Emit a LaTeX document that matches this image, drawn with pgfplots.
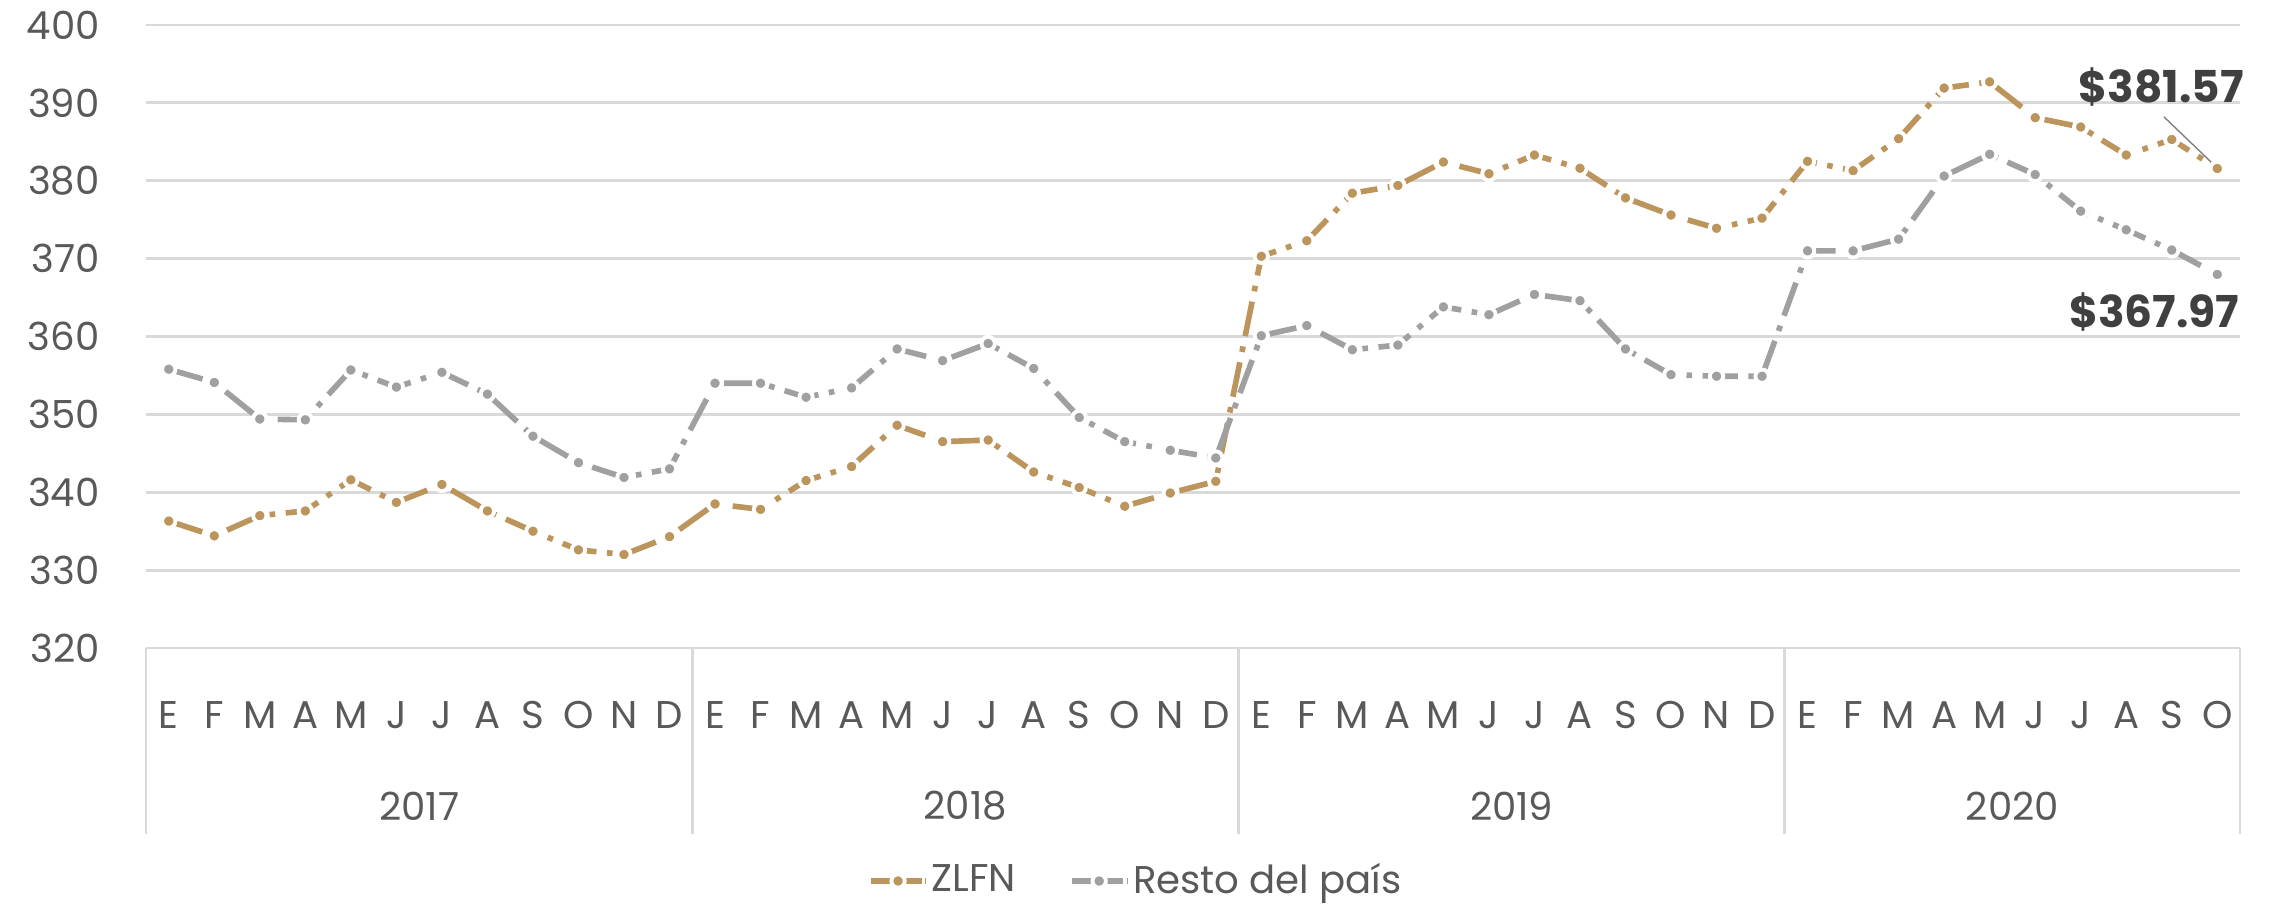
\documentclass[border=0pt]{standalone}
\usepackage{pgfplots}
\pgfplotsset{compat=1.18}
\usepackage{pgfplotstable}
\usepackage{fontspec}
\setmainfont{Poppins}

\definecolor{oro}{HTML}{BC955C}
\definecolor{gris}{HTML}{A0A0A0}
\definecolor{txt}{HTML}{595959}
\definecolor{lbl}{HTML}{404040}
\definecolor{rejilla}{HTML}{D9D9D9}

% mes (0 = ene 2017), ZLFN, resto del pais
\pgfplotstableread{
x  zlfn    resto
0  336.3   355.8
1  334.4   354.1
2  337.0   349.4
3  337.6   349.3
4  341.6   355.7
5  338.7   353.5
6  341.0   355.4
7  337.6   352.6
8  335.0   347.2
9  332.6   343.8
10 332.0   341.9
11 334.3   343.0
12 338.5   354.0
13 337.8   354.0
14 341.5   352.2
15 343.3   353.4
16 348.6   358.4
17 346.5   356.9
18 346.7   359.1
19 342.6   355.9
20 340.6   349.6
21 338.2   346.5
22 339.9   345.4
23 341.4   344.4
24 370.3   360.1
25 372.3   361.4
26 378.4   358.3
27 379.4   358.9
28 382.4   363.8
29 380.9   362.8
30 383.3   365.4
31 381.6   364.6
32 377.8   358.4
33 375.6   355.1
34 373.9   354.9
35 375.2   354.9
36 382.5   371.0
37 381.3   371.0
38 385.4   372.5
39 391.9   380.6
40 392.7   383.4
41 388.1   380.8
42 386.9   376.1
43 383.3   373.7
44 385.3   371.1
45 381.57  367.97
}\datos

\begin{document}
\begin{tikzpicture}
\useasboundingbox (0,0) rectangle (22.73cm,9.04cm);
\begin{axis}[
  at={(1.46cm,2.56cm)}, anchor=south west,
  scale only axis, width=20.94cm, height=6.23cm,
  xmin=-0.5, xmax=45.5, ymin=320, ymax=400,
  axis line style={draw=none},
  ytick={320,330,...,400},
  xtick={0,...,45},
  xticklabels={E,F,M,A,M,J,J,A,S,O,N,D,E,F,M,A,M,J,J,A,S,O,N,D,E,F,M,A,M,J,J,A,S,O,N,D,E,F,M,A,M,J,J,A,S,O},
  major tick length=0pt,
  xmajorgrids=false, ymajorgrids=true,
  major grid style={draw=rejilla, line width=0.8pt},
  tick label style={font=\fontsize{11}{13}\selectfont, text=txt},
  /pgf/number format/assume math mode=true,
  yticklabel style={xshift=-0.34cm},
  xticklabel style={anchor=center, yshift=-0.67cm},
  clip=false,
  legend style={at={(0.473,-0.374)}, anchor=center, draw=none, fill=none,
    font=\fontsize{11}{13}\selectfont, text=txt, legend columns=2,
    nodes={inner xsep=1pt},
    /tikz/every even column/.append style={column sep=14pt}},
  legend image code/.code={
    \draw[#1, dash pattern=on 4pt off 2pt on 1.6pt off 2pt] (0cm,0cm) -- (0.55cm,0cm);
    \draw[#1, mark repeat=2, mark phase=2] plot coordinates {(0cm,0cm) (0.275cm,0cm) (0.55cm,0cm)};
  },
  every axis plot/.append style={line width=1.6pt,
    dash pattern=on 10pt off 3pt on 1.6pt off 3pt,
    mark=*, mark size=1.9pt},
]
\addplot[oro, mark options={solid, fill=oro, draw=white, line width=1.1pt}]
  table[x=x, y=zlfn] {\datos};
\addlegendentry{ZLFN}
\addplot[gris, mark options={solid, fill=gris, draw=white, line width=1.1pt}]
  table[x=x, y=resto] {\datos};
\addlegendentry{Resto del país}

% caja de categorias
\draw[rejilla, line width=0.8pt] (axis cs:-0.5,320) -- (axis cs:45.5,320);
\draw[rejilla, line width=0.8pt] (axis cs:-0.5,320) -- (axis cs:-0.5,296.1);
\draw[rejilla, line width=0.8pt] (axis cs:11.5,320) -- (axis cs:11.5,296.1);
\draw[rejilla, line width=0.8pt] (axis cs:23.5,320) -- (axis cs:23.5,296.1);
\draw[rejilla, line width=0.8pt] (axis cs:35.5,320) -- (axis cs:35.5,296.1);
\draw[rejilla, line width=0.8pt] (axis cs:45.5,320) -- (axis cs:45.5,296.1);
\node[font=\fontsize{11}{13}\selectfont, text=txt] at (axis cs:5.5,299.7) {2017};
\node[font=\fontsize{11}{13}\selectfont, text=txt] at (axis cs:17.5,299.7) {2018};
\node[font=\fontsize{11}{13}\selectfont, text=txt] at (axis cs:29.5,299.7) {2019};
\node[font=\fontsize{11}{13}\selectfont, text=txt] at (axis cs:40.5,299.7) {2020};

% etiquetas finales
\draw[gris!80!black, line width=0.4pt] (axis cs:43.83,388.2) -- (axis cs:44.97,381.8);
\node[anchor=east, font=\bfseries\fontsize{12.5}{14}\selectfont, text=lbl, inner sep=0pt]
  at (axis cs:45.6,392.0) {\$381.57};
\node[anchor=east, font=\bfseries\fontsize{12.5}{14}\selectfont, text=lbl, inner sep=0pt]
  at (axis cs:45.5,363.2) {\$367.97};
\end{axis}
\end{tikzpicture}
\end{document}
